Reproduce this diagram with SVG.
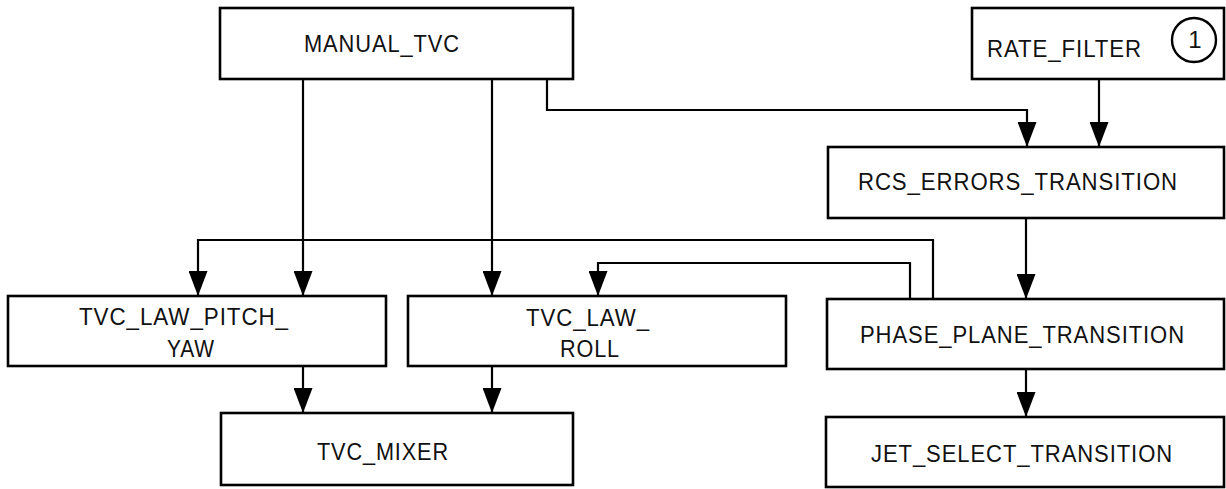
<svg xmlns="http://www.w3.org/2000/svg" width="1226" height="489" viewBox="0 0 1226 489">
<style>
.box{fill:#fff;stroke:#000;stroke-width:2.6}
.lbl{font-family:"Liberation Sans",Arial,sans-serif;font-size:24px;letter-spacing:1px;fill:#111}
.con{fill:none;stroke:#000;stroke-width:2.2;marker-end:url(#ah)}
</style>
<defs>
<marker id="ah" viewBox="0 0 25 19" refX="25" refY="9.5" markerUnits="userSpaceOnUse" markerWidth="25" markerHeight="19" orient="auto">
<path d="M0,0 L25,9.5 L0,19 z" fill="#000"/>
</marker>
</defs>
<rect width="1226" height="489" fill="#fff"/>
<g id="connectors">
<path class="con" d="M303,79 V296"/>
<path class="con" d="M492,79 V296"/>
<path class="con" d="M547,79 V110 H1027 V147"/>
<path class="con" d="M1099,79 V147"/>
<path class="con" d="M1026,218 V299"/>
<path class="con" d="M933,299 V240 H198 V296"/>
<path class="con" d="M910,299 V263 H598 V296"/>
<path class="con" d="M303,366 V413"/>
<path class="con" d="M492,366 V413"/>
<path class="con" d="M1026,369 V417"/>
</g>
<g id="manual_tvc">
<rect class="box" x="220" y="8" width="353" height="71"/>
<text class="lbl" x="304" y="52" textLength="156" lengthAdjust="spacingAndGlyphs">MANUAL_TVC</text>
</g>
<g id="rate_filter">
<rect class="box" x="972" y="8" width="252" height="71"/>
<text class="lbl" x="987" y="57" textLength="155" lengthAdjust="spacingAndGlyphs">RATE_FILTER</text>
<circle cx="1194" cy="40" r="22" fill="none" stroke="#000" stroke-width="2.4"/>
<text class="lbl" x="1195" y="48" text-anchor="middle" style="letter-spacing:0">1</text>
</g>
<g id="rcs_errors_transition">
<rect class="box" x="828" y="147" width="396" height="71"/>
<text class="lbl" x="858" y="190" textLength="320" lengthAdjust="spacingAndGlyphs">RCS_ERRORS_TRANSITION</text>
</g>
<g id="tvc_law_pitch_yaw">
<rect class="box" x="8" y="296" width="378" height="70"/>
<text class="lbl" x="79" y="325" textLength="210" lengthAdjust="spacingAndGlyphs">TVC_LAW_PITCH_</text>
<text class="lbl" x="167" y="357" textLength="48" lengthAdjust="spacingAndGlyphs">YAW</text>
</g>
<g id="tvc_law_roll">
<rect class="box" x="408" y="296" width="378" height="70"/>
<text class="lbl" x="526" y="326" textLength="124" lengthAdjust="spacingAndGlyphs">TVC_LAW_</text>
<text class="lbl" x="560" y="357" textLength="60" lengthAdjust="spacingAndGlyphs">ROLL</text>
</g>
<g id="phase_plane_transition">
<rect class="box" x="827" y="299" width="397" height="70"/>
<text class="lbl" x="860" y="343" textLength="325" lengthAdjust="spacingAndGlyphs">PHASE_PLANE_TRANSITION</text>
</g>
<g id="tvc_mixer">
<rect class="box" x="221" y="413" width="352" height="72"/>
<text class="lbl" x="317" y="460" textLength="132" lengthAdjust="spacingAndGlyphs">TVC_MIXER</text>
</g>
<g id="jet_select_transition">
<rect class="box" x="826" y="417" width="398" height="70"/>
<text class="lbl" x="871" y="462" textLength="302" lengthAdjust="spacingAndGlyphs">JET_SELECT_TRANSITION</text>
</g>
</svg>
